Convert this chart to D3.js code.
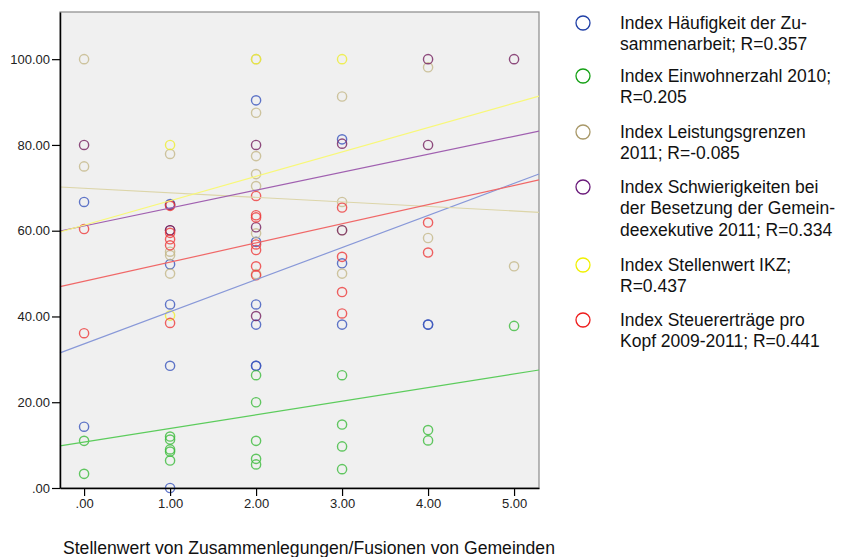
<!DOCTYPE html>
<html><head><meta charset="utf-8">
<script src="https://cdn.jsdelivr.net/npm/d3@7"></script>
<style>body{margin:0;background:#fff;font-family:Arial,"Liberation Sans",sans-serif}</style>
</head><body><svg id="c" width="854" height="557"></svg>
<script>
// ---- data ----
const seriesNames = [
  ["Index Häufigkeit der Zu-", "sammenarbeit; R=0.357"],
  ["Index Einwohnerzahl 2010;", "R=0.205"],
  ["Index Leistungsgrenzen", "2011; R=-0.085"],
  ["Index Schwierigkeiten bei", "der Besetzung der Gemein-", "deexekutive 2011; R=0.334"],
  ["Index Stellenwert IKZ;", "R=0.437"],
  ["Index Steuererträge pro", "Kopf 2009-2011; R=0.441"]
];
const haeufigkeit = [[0,66.7],[0,14.3],[1,66.2],[1,52.2],[1,42.8],[1,28.5],[1,0],
  [2,90.4],[2,57.4],[2,42.8],[2,38.1],[2,28.5],[2,28.5],[3,81.3],[3,52.4],[3,38.1],[4,38.1],[4,38.1]];
const einwohner = [[0,11.0],[0,3.3],[1,12.0],[1,11.3],[1,9.0],[1,8.5],[1,6.4],
  [2,26.3],[2,20.0],[2,11.0],[2,6.8],[2,5.5],[3,26.3],[3,14.8],[3,9.7],[3,4.4],[4,13.5],[4,11.1],[5,37.8]];
const leistung = [[0,100],[0,75],[1,77.9],[1,55.1],[1,54.3],[1,50.0],
  [2,100],[2,87.5],[2,77.4],[2,73.2],[2,70.4],[2,59.4],[2,49.9],[3,91.3],[3,66.7],[3,60.1],[3,50.0],[4,98.1],[4,58.3],[5,51.7]];
const schwierig = [[0,80],[1,66.0],[1,60.1],[1,60.1],[2,80],[2,60.8],[2,40.1],[3,80.3],[3,60.1],[4,100],[4,80],[5,100]];
const ikz = [[1,80],[1,40.2],[2,100],[3,100]];
const steuer = [[0,60.4],[0,36.1],[1,65.8],[1,59.5],[1,58.0],[1,56.6],[1,38.5],
  [2,68.1],[2,63.6],[2,63.1],[2,56.8],[2,55.5],[2,51.7],[2,49.6],[3,65.4],[3,53.9],[3,45.7],[3,40.7],[4,61.9],[4,54.9]];
const fitIntercepts = [33.6, 10.7, 69.9, 61.1, 61.3, 48.2];
const fitSlopes = [7.49, 3.18, -1.06, 4.18, 5.69, 4.47];
const xTicks = [0,1,2,3,4,5];
const yTicks = [0,20,40,60,80,100];
const xTitle = "Stellenwert von Zusammenlegungen/Fusionen von Gemeinden";

// ---- styles ----
const allSeries = [haeufigkeit, einwohner, leistung, schwierig, ikz, steuer];
const markerColors = ["#3a55bd","#3cbc3c","#c4b888","#74205f","#eeee30","#ee3a3a"];
const lineColors = ["#8898d8","#5ccc5c","#dcd5a8","#a060b0","#f8f878","#f06868"];
const legendColors = ["#1f3fa6","#14a014","#a89868","#6a1a7a","#f0f000","#ee1c1c"];

const svg = d3.select("#c");
const L=60, R=539, T=12, B=488;
const x = d3.scaleLinear().domain([-0.28, 5.29]).range([L, R]);
const y = d3.scaleLinear().domain([0, 111]).range([B, T]);
const fmt = v => d3.format(".2f")(v).replace(/^0/, "");

svg.append("rect").attr("x",L).attr("y",T).attr("width",R-L).attr("height",B-T)
  .attr("fill","#f0f0f0").attr("stroke","#8a8a8a").attr("stroke-width",1.2);

const plot = svg.append("g");
allSeries.forEach((s,i)=>{
  plot.selectAll(null).data(s).enter().append("circle")
    .attr("cx",d=>x(d[0])).attr("cy",d=>y(d[1])).attr("r",4.6)
    .attr("fill","none").attr("stroke",markerColors[i]).attr("stroke-width",1.4)
    .attr("stroke-opacity",0.8);
});
allSeries.forEach((s,i)=>{
  const d0 = x.domain()[0], d1 = x.domain()[1];
  plot.append("line")
    .attr("x1",x(d0)).attr("y1",y(fitIntercepts[i]+fitSlopes[i]*d0))
    .attr("x2",x(d1)).attr("y2",y(fitIntercepts[i]+fitSlopes[i]*d1))
    .attr("stroke",lineColors[i]).attr("stroke-width",1.2);
});

const yAxis = svg.append("g").attr("transform",`translate(${L},0)`)
  .call(d3.axisLeft(y).tickValues(yTicks).tickFormat(fmt).tickSize(8).tickPadding(2).tickSizeOuter(0));
const xAxis = svg.append("g").attr("transform",`translate(0,${B})`)
  .call(d3.axisBottom(x).tickValues(xTicks).tickFormat(fmt).tickSize(8).tickPadding(3).tickSizeOuter(0));
[yAxis,xAxis].forEach(a=>{
  a.select(".domain").attr("stroke","#000").attr("stroke-width",1.5);
  a.selectAll(".tick line").attr("stroke","#000").attr("stroke-width",1.2);
  a.selectAll("text").attr("font-family","Arial, 'Liberation Sans', sans-serif").attr("font-size",13).attr("fill","#222");
});

svg.append("text").attr("x",63).attr("y",554).attr("font-size",17.6).attr("fill","#111")
  .attr("font-family","Arial, 'Liberation Sans', sans-serif").text(xTitle);

const legendY = [23, 76, 132, 187, 265, 320];
const lg = svg.append("g");
seriesNames.forEach((lines,i)=>{
  lg.append("circle").attr("cx",583).attr("cy",legendY[i]).attr("r",7)
    .attr("fill","none").attr("stroke",legendColors[i]).attr("stroke-width",1.3);
  lines.forEach((t,j)=>{
    lg.append("text").attr("x",620).attr("y",legendY[i]+6+j*21.3).attr("font-size",17.5)
      .attr("fill","#111").attr("font-family","Arial, 'Liberation Sans', sans-serif").text(t);
  });
});
</script></body></html>
